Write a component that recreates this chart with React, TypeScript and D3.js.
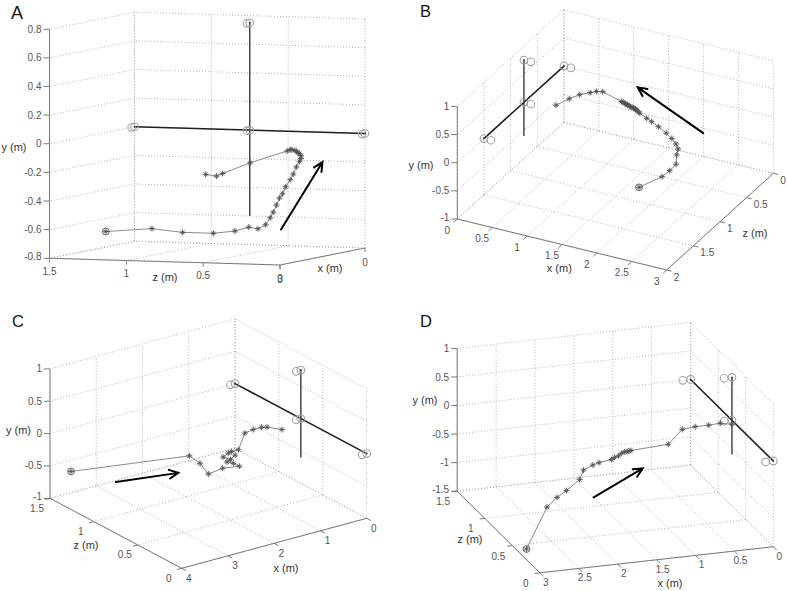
import React from 'react';
import * as d3 from 'd3';

type V = [number, number];
type P3 = [number, number, number];

// ---- hand trajectories (metres), one set per panel ----
const aTrajX = [1.5, 1.5, 1.5, 1.5, 1.5, 1.5, 1.5, 1.5, 1.5, 1.5, 1.5, 1.5, 1.5, 1.5, 1.5, 1.5, 1.5, 1.5, 1.5, 1.5, 1.5, 1.5, 1.5, 1.5, 1.5, 1.5, 1.5, 1.5, 1.5, 1.5, 1.5];
const aTrajY = [-0.67, -0.64, -0.66, -0.66, -0.64, -0.61, -0.62, -0.59, -0.54, -0.5, -0.45, -0.4, -0.37, -0.32, -0.27, -0.23, -0.18, -0.14, -0.12, -0.1, -0.085, -0.08, -0.07, -0.065, -0.06, -0.06, -0.07, -0.16, -0.24, -0.26, -0.25];
const aTrajZ = [1.41, 1.11, 0.91, 0.71, 0.57, 0.48, 0.42, 0.37, 0.34, 0.32, 0.3, 0.28, 0.26, 0.24, 0.21, 0.19, 0.17, 0.15, 0.14, 0.14, 0.15, 0.16, 0.17, 0.18, 0.2, 0.21, 0.23, 0.47, 0.65, 0.69, 0.76];

const bTrajX = [1.84, 2.17, 2.28, 2.37, 2.38, 2.4, 2.37, 2.31, 2.23, 2.12, 2.02, 1.95, 1.85, 1.83, 1.81, 1.79, 1.78, 1.76, 1.74, 1.72, 1.7, 1.68, 1.67, 1.65, 1.63, 1.61, 1.59, 1.32, 1.23, 1.14, 0.99, 0.84, 0.65];
const bTrajY = [-0.74, -0.45, -0.31, -0.17, 0.0, 0.11, 0.19, 0.27, 0.34, 0.42, 0.48, 0.52, 0.58, 0.6, 0.62, 0.63, 0.64, 0.645, 0.65, 0.655, 0.66, 0.67, 0.68, 0.685, 0.69, 0.7, 0.71, 0.8, 0.78, 0.73, 0.65, 0.53, 0.36];
const bTrajZ = [1, 1, 1, 1, 1, 1, 1, 1, 1, 1, 1, 1, 1, 1, 1, 1, 1, 1, 1, 1, 1, 1, 1, 1, 1, 1, 1, 1, 1, 1, 1, 1, 1];

const cTrajX = [3.83, 2.41, 2.18, 2.0, 1.69, 1.33, 1.46, 1.6, 1.42, 1.52, 1.68, 1.57, 1.5, 1.35, 1.21, 1.03, 0.85, 0.73, 0.41];
const cTrajY = [-0.51, -0.11, -0.27, -0.47, -0.44, -0.48, -0.41, -0.36, -0.29, -0.34, -0.27, -0.23, -0.22, -0.22, 0.01, 0.03, 0.03, 0.01, -0.09];
const cTrajZ = [1.35, 0.75, 0.75, 0.75, 0.75, 0.75, 0.75, 0.75, 0.75, 0.75, 0.75, 0.75, 0.75, 0.75, 0.75, 0.75, 0.75, 0.75, 0.75];

const dTrajX = [2.91, 2.59, 2.46, 2.34, 2.17, 2.05, 1.93, 1.85, 1.69, 1.65, 1.6, 1.56, 1.52, 1.49, 1.465, 1.44, 0.89, 0.66, 0.48, 0.3, 0.15, 0.0];
const dTrajY = [-1.45, -0.84, -0.69, -0.59, -0.42, -0.37, -0.3, -0.27, -0.24, -0.21, -0.19, -0.15, -0.13, -0.13, -0.125, -0.12, -0.19, -0.03, -0.03, -0.04, -0.03, -0.07];
const dTrajZ = [0.37, 0.45, 0.45, 0.45, 0.45, 0.55, 0.55, 0.55, 0.55, 0.55, 0.55, 0.55, 0.55, 0.55, 0.55, 0.55, 0.65, 0.72, 0.74, 0.75, 0.75, 0.75];

// ---- the sensor cross (same in every panel) ----
const crossH: P3[] = [[0, 0, 0], [0, 0, 1.5]];
const crossV: P3[] = [[0, -0.6, 0.75], [0, 0.75, 0.75]];
const sensorPts: P3[] = [[0, 0, 0], [0, 0, 1.5], [0, 0, 0.75], [0, 0.75, 0.75]];
const sensorPtsShift: P3[] = [[0.1, 0, 0], [0.1, 0, 1.5], [0.1, 0, 0.75], [0.1, 0.75, 0.75]];

// ---- direction arrows (tail, head) ----
const aArrow: P3[] = [[1.5, -0.62, 0.27], [1.5, -0.14, 0.0]];
const bArrow: P3[] = [[2.76, 0.5, 1], [1.82, 1.03, 1]];
const cArrow: P3[] = [[2.86, -0.86, 1.35], [1.51, -0.98, 1.35]];
const dArrow: P3[] = [[1.99, -0.76, 0.45], [1.36, -0.35, 0.45]];

// ---- ticks ----
const aXTicks = [0, 3];
const aYTicks = [-0.8, -0.6, -0.4, -0.2, 0, 0.2, 0.4, 0.6, 0.8];
const aZTicks = [0, 0.5, 1, 1.5];
const bXTicks = [0, 0.5, 1, 1.5, 2, 2.5, 3];
const bYTicks = [-1, -0.5, 0, 0.5, 1];
const bZTicks = [0, 0.5, 1, 1.5, 2];
const cXTicks = [0, 1, 2, 3, 4];
const cYTicks = [-1, -0.5, 0, 0.5, 1];
const cZTicks = [0, 0.5, 1, 1.5];
const dXTicks = [0, 0.5, 1, 1.5, 2, 2.5, 3];
const dYTicks = [-1.5, -1, -0.5, 0, 0.5, 1];
const dZTicks = [0, 0.5, 1, 1.5];

interface Panel {
  letter: string; letterPos: V; letterSize: number;
  xDom: V; yDom: V; zDom: V;
  o: V; ex: V; ey: V; ez: V;
  xTicks: number[]; yTicks: number[]; zTicks: number[];
  wallZ: number;
  yAxisAt: [number, number]; xAxisZ: number; zAxisX: number;
  xLab: V; zLab: V; zAnchor: string;
  xTickDir: V; zTickDir: V;
  xTitle: V; yTitle: V; zTitle: V;
  tx: number[]; ty: number[]; tz: number[];
  arrow: P3[];
}

const panels: Panel[] = [
  {
    letter: 'A', letterPos: [11, 18.5], letterSize: 18,
    xDom: [0, 3], yDom: [-0.8, 0.8], zDom: [0, 1.5],
    o: [365, 248], ex: [-85, 17], ey: [0, -229], ez: [-230.5, -6.75],
    xTicks: aXTicks, yTicks: aYTicks, zTicks: aZTicks, wallZ: 1.5,
    yAxisAt: [3, 1.5], xAxisZ: 0, zAxisX: 3,
    xLab: [0, 14], zLab: [0, 13], zAnchor: 'middle',
    xTickDir: [0, 4], zTickDir: [0, 4],
    xTitle: [330, 268], yTitle: [14, 146.7], zTitle: [165, 276.7],
    tx: aTrajX, ty: aTrajY, tz: aTrajZ, arrow: aArrow,
  },
  {
    letter: 'B', letterPos: [420, 17], letterSize: 16.5,
    xDom: [0, 3], yDom: [-1, 1], zDom: [0, 2],
    o: [563.9, 122.4], ex: [209.4, 51], ey: [0, -112.6], ez: [-106.6, 96.6],
    xTicks: bXTicks, yTicks: bYTicks, zTicks: bZTicks, wallZ: 0,
    yAxisAt: [0, 2], xAxisZ: 2, zAxisX: 3,
    xLab: [-10, 11], zLab: [7, 7], zAnchor: 'start',
    xTickDir: [-3.7, 3.4], zTickDir: [4.8, 1.2],
    xTitle: [559.3, 268.3], yTitle: [421, 165], zTitle: [755, 233.3],
    tx: bTrajX, ty: bTrajY, tz: bTrajZ, arrow: bArrow,
  },
  {
    letter: 'C', letterPos: [12, 327], letterSize: 16.5,
    xDom: [0, 4], yDom: [-1, 1], zDom: [0, 1.5],
    o: [366.7, 518.3], ex: [-185, 50], ey: [0, -129.4], ez: [-131.7, -70],
    xTicks: cXTicks, yTicks: cYTicks, zTicks: cZTicks, wallZ: 1.5,
    yAxisAt: [4, 1.5], xAxisZ: 0, zAxisX: 4,
    xLab: [7, 10], zLab: [-13, 10], zAnchor: 'middle',
    xTickDir: [4.4, 2.3], zTickDir: [-4.8, 1.3],
    xTitle: [286, 568.3], yTitle: [18.5, 430], zTitle: [86, 544.5],
    tx: cTrajX, ty: cTrajY, tz: cTrajZ, arrow: cArrow,
  },
  {
    letter: 'D', letterPos: [420, 327], letterSize: 16.5,
    xDom: [0, 3], yDom: [-1.5, 1], zDom: [0, 1.5],
    o: [773.3, 546.7], ex: [-233.4, 26.1], ey: [0, -142.75], ez: [-82.7, -81.6],
    xTicks: dXTicks, yTicks: dYTicks, zTicks: dZTicks, wallZ: 1.5,
    yAxisAt: [3, 1.5], xAxisZ: 0, zAxisX: 3,
    xLab: [6, 9.5], zLab: [-14, 10.5], zAnchor: 'middle',
    xTickDir: [3.5, 3.5], zTickDir: [-5, 0.6],
    xTitle: [670, 583.3], yTitle: [425, 400], zTitle: [470, 539.3],
    tx: dTrajX, ty: dTrajY, tz: dTrajZ, arrow: dArrow,
  },
];

const FONT = '"Liberation Sans", Arial, sans-serif';
const fmt = (v: number) => String(v);

function makeProjector(p: Panel) {
  const fx = d3.scaleLinear().domain(p.xDom).range([0, 1]);
  const fy = d3.scaleLinear().domain(p.yDom).range([0, 1]);
  const fz = d3.scaleLinear().domain(p.zDom).range([0, 1]);
  return (x: number, y: number, z: number): V => [
    p.o[0] + fx(x) * p.ex[0] + fy(y) * p.ey[0] + fz(z) * p.ez[0],
    p.o[1] + fx(x) * p.ex[1] + fy(y) * p.ey[1] + fz(z) * p.ez[1],
  ];
}

function asterisk(c: V, r: number) {
  const d = r * 0.62;
  return `M${c[0] - r},${c[1]}H${c[0] + r}M${c[0]},${c[1] - r}V${c[1] + r}` +
    `M${c[0] - d},${c[1] - d}L${c[0] + d},${c[1] + d}M${c[0] - d},${c[1] + d}L${c[0] + d},${c[1] - d}`;
}

function PanelView({ p }: { p: Panel }) {
  const P = makeProjector(p);
  const [x0, x1] = p.xDom;
  const [y0, y1] = p.yDom;
  const [z0, z1] = p.zDom;
  const grid: [V, V][] = [];
  // wall x = 0
  p.yTicks.forEach(y => grid.push([P(0, y, z0), P(0, y, z1)]));
  p.zTicks.forEach(z => grid.push([P(0, y0, z), P(0, y1, z)]));
  // wall z = const
  p.yTicks.forEach(y => grid.push([P(x0, y, p.wallZ), P(x1, y, p.wallZ)]));
  p.xTicks.forEach(x => grid.push([P(x, y0, p.wallZ), P(x, y1, p.wallZ)]));
  // floor
  p.xTicks.forEach(x => grid.push([P(x, y0, z0), P(x, y0, z1)]));
  p.zTicks.forEach(z => grid.push([P(x0, y0, z), P(x1, y0, z)]));

  const [yax, yaz] = p.yAxisAt;
  const yA0 = P(yax, y0, yaz), yA1 = P(yax, y1, yaz);
  const xA0 = P(x0, y0, p.xAxisZ), xA1 = P(x1, y0, p.xAxisZ);
  const zA0 = P(p.zAxisX, y0, z0), zA1 = P(p.zAxisX, y0, z1);

  const traj = p.tx.map((x, i) => P(x, p.ty[i], p.tz[i]));
  const line = d3.line<V>().x(d => d[0]).y(d => d[1]);

  const tail = P(...p.arrow[0]);
  const head = P(...p.arrow[1]);
  const ang = Math.atan2(head[1] - tail[1], head[0] - tail[0]);
  const hl = 10, ha = 0.45;
  const arrowPath = `M${tail[0]},${tail[1]}L${head[0]},${head[1]}` +
    `M${head[0] - hl * Math.cos(ang - ha)},${head[1] - hl * Math.sin(ang - ha)}L${head[0]},${head[1]}` +
    `L${head[0] - hl * Math.cos(ang + ha)},${head[1] - hl * Math.sin(ang + ha)}`;

  const axisStroke = '#7a7a7a';
  const tickFill = '#555';

  return (
    <g>
      <text x={p.letterPos[0]} y={p.letterPos[1]} fontSize={p.letterSize} fontFamily={FONT} fill="#111">{p.letter}</text>
      <g stroke="#a2a2a2" strokeWidth={0.8} strokeDasharray="1,2" fill="none">
        {grid.map((g, i) => <line key={i} x1={g[0][0]} y1={g[0][1]} x2={g[1][0]} y2={g[1][1]} />)}
      </g>
      <g stroke={axisStroke} strokeWidth={1} fill="none">
        <line x1={yA0[0]} y1={yA0[1]} x2={yA1[0]} y2={yA1[1]} />
        <line x1={xA0[0]} y1={xA0[1]} x2={xA1[0]} y2={xA1[1]} />
        <line x1={zA0[0]} y1={zA0[1]} x2={zA1[0]} y2={zA1[1]} />
        {p.yTicks.map(y => { const t = P(yax, y, yaz); return <line key={'yt' + y} x1={t[0] - 6} y1={t[1]} x2={t[0]} y2={t[1]} />; })}
        {p.xTicks.map(x => { const t = P(x, y0, p.xAxisZ); return <line key={'xt' + x} x1={t[0]} y1={t[1]} x2={t[0] + p.xTickDir[0]} y2={t[1] + p.xTickDir[1]} />; })}
        {p.zTicks.map(z => { const t = P(p.zAxisX, y0, z); return <line key={'zt' + z} x1={t[0]} y1={t[1]} x2={t[0] + p.zTickDir[0]} y2={t[1] + p.zTickDir[1]} />; })}
      </g>
      <g fontFamily={FONT} fontSize={10} fill={tickFill}>
        {p.yTicks.map((y, i) => { const t = P(yax, y, yaz); return <text key={'yl' + y} x={t[0] - 8} y={t[1] - (i === 0 ? 2 : 0)} textAnchor="end" dominantBaseline="central">{fmt(y)}</text>; })}
        {p.xTicks.map(x => { const t = P(x, y0, p.xAxisZ); return <text key={'xl' + x} x={t[0] + p.xLab[0]} y={t[1] + p.xLab[1]} textAnchor="middle" dominantBaseline="central">{fmt(x)}</text>; })}
        {p.zTicks.map(z => { const t = P(p.zAxisX, y0, z); return <text key={'zl' + z} x={t[0] + p.zLab[0]} y={t[1] + p.zLab[1]} textAnchor={p.zAnchor} dominantBaseline="central">{fmt(z)}</text>; })}
      </g>
      <g fontFamily={FONT} fontSize={11} fill="#333" textAnchor="middle" dominantBaseline="central">
        <text x={p.xTitle[0]} y={p.xTitle[1]}>x (m)</text>
        <text x={p.yTitle[0]} y={p.yTitle[1]}>y (m)</text>
        <text x={p.zTitle[0]} y={p.zTitle[1]}>z (m)</text>
      </g>
      {/* sensor cross */}
      <g fill="none">
        {(() => { const a = P(...crossV[0]), b = P(...crossV[1]); return <line x1={a[0]} y1={a[1]} x2={b[0]} y2={b[1]} stroke="#3a3a3a" strokeWidth={1.4} />; })()}
        {(() => { const a = P(...crossH[0]), b = P(...crossH[1]); return <line x1={a[0]} y1={a[1]} x2={b[0]} y2={b[1]} stroke="#1e1e1e" strokeWidth={1.6} />; })()}
        {sensorPtsShift.map((s, i) => { const c = P(...s); return <circle key={'s2' + i} cx={c[0]} cy={c[1]} r={3.8} stroke="#a8a8a8" strokeWidth={1.1} />; })}
        {sensorPts.map((s, i) => { const c = P(...s); return <g key={'s1' + i}><circle cx={c[0]} cy={c[1]} r={3.8} stroke="#a0a0a0" strokeWidth={1.1} /><circle cx={c[0]} cy={c[1]} r={1} fill="#444" /></g>; })}
      </g>
      {/* trajectory */}
      <path d={line(traj) || ''} fill="none" stroke="#7d7d7d" strokeWidth={0.9} />
      <g stroke="#505050" strokeWidth={0.9} fill="none">
        {traj.map((c, i) => <path key={'m' + i} d={asterisk(c, 3)} />)}
        <circle cx={traj[0][0]} cy={traj[0][1]} r={3.4} stroke="#555" />
      </g>
      <path d={arrowPath} fill="none" stroke="#000" strokeWidth={2} strokeLinecap="round" strokeLinejoin="miter" />
    </g>
  );
}

export default function App() {
  return (
    <svg width={787} height={591} viewBox="0 0 787 591"
      style={{ position: 'absolute', left: 0, top: 0, background: '#fff' }}>
      <rect width={787} height={591} fill="#fff" />
      {panels.map(p => <PanelView key={p.letter} p={p} />)}
    </svg>
  );
}
